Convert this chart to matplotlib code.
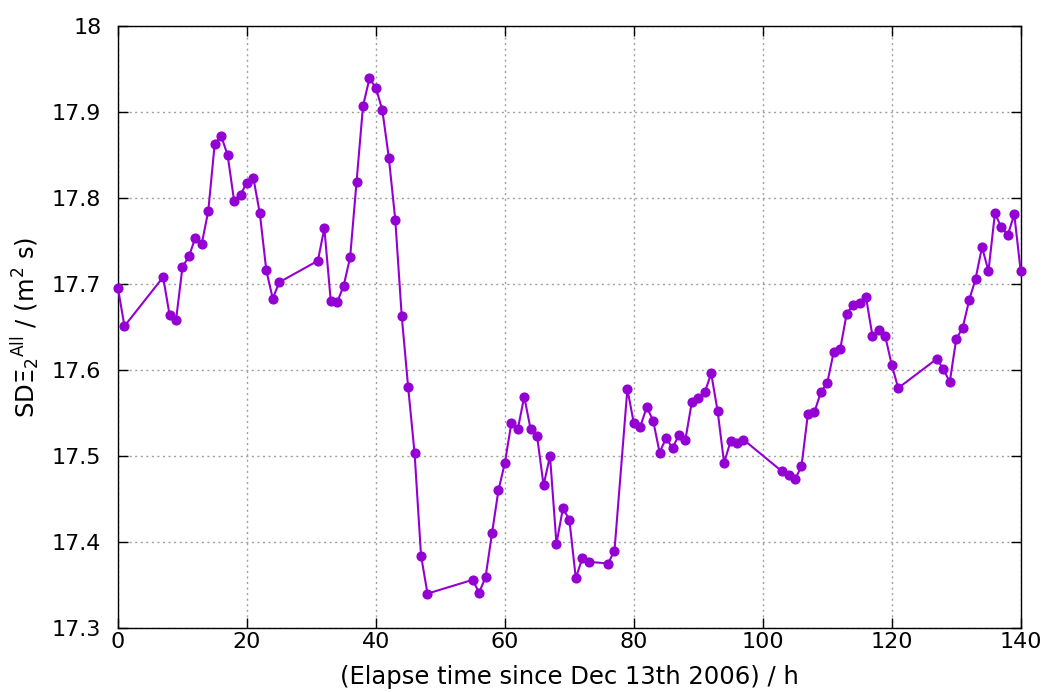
import matplotlib
matplotlib.use("Agg")
import matplotlib.pyplot as plt
import numpy as np

# Elapsed hours and SD Xi_2 values
hours = [0, 1, 7, 8, 9, 10, 11, 12, 13, 14, 15, 16, 17, 18, 19, 20, 21, 22, 23, 24, 25,
         31, 32, 33, 34, 35, 36, 37, 38, 39, 40, 41, 42, 43, 44, 45, 46, 47, 48,
         55, 56, 57, 58, 59, 60, 61, 62, 63, 64, 65, 66, 67, 68, 69, 70, 71, 72, 73,
         76, 77, 79, 80, 81, 82, 83, 84, 85, 86, 87, 88, 89, 90, 91, 92, 93, 94, 95, 96, 97,
         103, 104, 105, 106, 107, 108, 109, 110, 111, 112, 113, 114, 115, 116, 117, 118, 119, 120, 121,
         127, 128, 129, 130, 131, 132, 133, 134, 135, 136, 137, 138, 139, 140]
sd_xi = [17.695, 17.651, 17.708, 17.664, 17.658, 17.720, 17.732, 17.754, 17.747, 17.785,
         17.863, 17.872, 17.850, 17.797, 17.804, 17.818, 17.823, 17.782, 17.716, 17.683, 17.702,
         17.727, 17.765, 17.680, 17.679, 17.698, 17.731, 17.819, 17.907, 17.939, 17.928,
         17.902, 17.847, 17.775, 17.663, 17.580, 17.503, 17.384, 17.340,
         17.356, 17.341, 17.359, 17.410, 17.460, 17.492, 17.538, 17.531, 17.569, 17.531,
         17.523, 17.466, 17.500, 17.398, 17.439, 17.426, 17.358, 17.381, 17.377,
         17.375, 17.390, 17.578, 17.538, 17.534, 17.557, 17.541, 17.504, 17.521, 17.509,
         17.525, 17.519, 17.563, 17.567, 17.574, 17.596, 17.552, 17.492, 17.517, 17.515, 17.519,
         17.482, 17.478, 17.473, 17.488, 17.549, 17.551, 17.574, 17.585, 17.621, 17.624,
         17.665, 17.676, 17.678, 17.685, 17.640, 17.646, 17.639, 17.606, 17.579,
         17.613, 17.601, 17.586, 17.636, 17.649, 17.681, 17.706, 17.743, 17.715,
         17.782, 17.766, 17.757, 17.781, 17.715]

x_ticks = [0, 20, 40, 60, 80, 100, 120, 140]
y_ticks = [17.3, 17.4, 17.5, 17.6, 17.7, 17.8, 17.9, 18.0]
y_tick_labels = ["17.3", "17.4", "17.5", "17.6", "17.7", "17.8", "17.9", "18"]

plt.rcParams["font.family"] = ["DejaVu Sans"]
plt.rcParams["mathtext.fontset"] = "dejavusans"

fig = plt.figure(figsize=(10.49, 6.92), dpi=100)
ax = fig.add_axes([118 / 1049, 1 - 628 / 692, (1020.7 - 118) / 1049, (628 - 26) / 692])

ax.plot(hours, sd_xi, color="#9400D3", linewidth=1.5, marker="o", markersize=6.3,
        clip_on=False, zorder=3)

ax.set_xlim(0, 140)
ax.set_ylim(17.3, 18.0)
ax.set_xticks(x_ticks)
ax.set_yticks(y_ticks)
ax.set_yticklabels(y_tick_labels)

ax.grid(True, color="#a0a0a0", linestyle=(0, (1.5, 2.5)), linewidth=1.0)
ax.tick_params(direction="in", top=True, right=True, length=7, width=1.0,
               labelsize=16, colors="black")
ax.tick_params(axis="y", pad=12)
ax.tick_params(axis="x", pad=3)
for s in ax.spines.values():
    s.set_linewidth(1.0)

ax.set_xlabel("(Elapse time since Dec 13th 2006) / h", fontsize=17.5, labelpad=9)
ax.set_ylabel(r"SD$\Xi_2{}^{\mathrm{All}}$ / (m$^2$ s)", fontsize=17.5, labelpad=7)

fig.savefig("out.png", dpi=100)
